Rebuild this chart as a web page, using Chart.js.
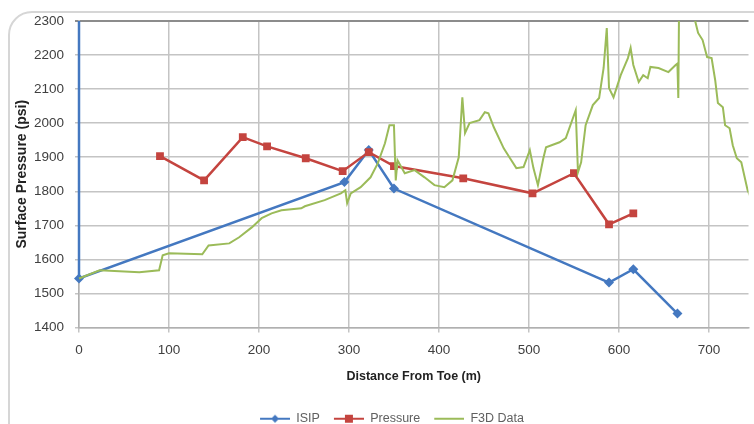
<!DOCTYPE html>
<html>
<head>
<meta charset="utf-8">
<script src="https://cdn.jsdelivr.net/npm/chart.js@4/dist/chart.umd.min.js"></script>
<style>
  html, body { margin: 0; padding: 0; background: #fff; overflow: hidden; }
  #wrap { position: relative; width: 754px; height: 424px; }
  #frame { position: absolute; left: 8px; top: 11px; width: 820px; height: 500px;
           border: 2px solid #d6d6d6; border-radius: 24px; }
  #chart { position: absolute; left: 0; top: 0; }
</style>
</head>
<body>
<div id="wrap">
  <div id="frame"></div>
  <canvas id="chart" width="754" height="424"></canvas>
</div>
<script>
// ISIP (first point runs off the top of the plot)
var isipX = [0, 0, 295, 322, 350, 589, 616, 665];
var isipY = [2500, 1544, 1827, 1921, 1808, 1532, 1571, 1441];

// Pressure
var pressureX = [90, 139, 182, 209, 252, 293, 322, 350, 427, 504, 550, 589, 616];
var pressureY = [1903, 1832, 1959, 1932, 1897, 1859, 1915, 1874, 1838, 1794, 1853, 1703, 1735];

// F3D Data
var f3dX = [0, 23, 67, 89, 93, 100, 137, 144, 167, 178, 192, 203, 214, 225, 247, 251, 273, 291, 296, 298,
            302, 313, 324, 332, 340, 345, 350, 352, 354, 362, 373, 384, 395, 406, 415, 422, 426, 429, 434, 445,
            451, 455, 461, 472, 479, 486, 494, 501, 505, 510, 516, 519, 534, 541, 552, 554.5, 558, 563, 571, 578,
            583, 586.5, 589, 594, 602, 610, 613, 616, 622, 627, 632, 635, 644, 655, 663, 665, 666, 667, 676, 685,
            688, 693, 698, 703, 707, 710, 715.5, 718, 723, 726.5, 731, 736, 740, 743, 750];
var f3dY = [1544, 1568, 1562, 1568, 1612, 1618, 1615, 1641, 1647, 1665, 1694, 1721, 1735, 1744, 1750, 1756, 1774, 1794, 1803, 1765,
            1794, 1812, 1841, 1882, 1941, 1994, 1994, 1832, 1891, 1853, 1862, 1841, 1818, 1812, 1832, 1900, 2076, 1971, 2000, 2009,
            2032, 2029, 1988, 1926, 1897, 1868, 1871, 1921, 1868, 1818, 1897, 1929, 1944, 1956, 2038, 1856, 1885, 1994, 2053, 2074,
            2162, 2279, 2103, 2076, 2141, 2191, 2221, 2171, 2121, 2141, 2132, 2165, 2162, 2150, 2171, 2175, 2074, 2400, 2500, 2297,
            2265, 2244, 2194, 2191, 2126, 2059, 2047, 1994, 1985, 1935, 1897, 1885, 1838, 1803, 1760];

var yMin = 1400, yMax = 2300, yStep = 50;
var xMin = 0, xMax = 744, xStep = 100;

var blue = '#4478c0', red = '#c4443f', green = '#9bbb59';
var font = "'Liberation Sans', Arial, sans-serif";

function pts(xs, ys) {
  return xs.map(function (x, i) { return { x: x, y: ys[i] }; });
}

// legend icon: blank gap on the left, then line with marker
function legendIcon(color, style) {
  var c = document.createElement('canvas');
  c.width = 40; c.height = 12;
  var g = c.getContext('2d');
  g.strokeStyle = color; g.lineWidth = 2;
  g.beginPath(); g.moveTo(10, 6); g.lineTo(40, 6); g.stroke();
  g.fillStyle = color;
  if (style === 'diamond') {
    g.beginPath(); g.moveTo(25, 2); g.lineTo(29, 6); g.lineTo(25, 10); g.lineTo(21, 6); g.closePath(); g.fill();
  } else if (style === 'square') {
    g.fillRect(21, 2, 8, 8);
  }
  return c;
}
var icons = [legendIcon(blue, 'diamond'), legendIcon(red, 'square'), legendIcon(green, 'none')];

// the original chart is wider than the crop, so its legend sits right of centre
var shiftLegend = {
  id: 'shiftLegend',
  afterLayout: function (chart) {
    var l = chart.legend;
    if (l) { l.left += 10; l.right += 10; l.top += 11; l.bottom += 11; }
  }
};

var ctx = document.getElementById('chart').getContext('2d');
new Chart(ctx, {
  type: 'line',
  data: {
    datasets: [
      {
        label: 'ISIP', data: pts(isipX, isipY),
        borderColor: blue, backgroundColor: blue, borderWidth: 2.5,
        pointStyle: 'rectRot', pointRadius: 5, pointBorderWidth: 0,
        order: 3, clip: { left: 10, top: 0, right: 0, bottom: 10 }
      },
      {
        label: 'Pressure', data: pts(pressureX, pressureY),
        borderColor: red, backgroundColor: red, borderWidth: 2.5,
        pointStyle: 'rect', pointRadius: 5.5, pointBorderWidth: 0,
        order: 2, clip: { left: 10, top: 0, right: 0, bottom: 10 }
      },
      {
        label: 'F3D Data', data: pts(f3dX, f3dY),
        borderColor: green, backgroundColor: green, borderWidth: 2,
        pointRadius: 0, order: 1, clip: { left: 10, top: 0, right: 0, bottom: 10 }
      }
    ]
  },
  plugins: [shiftLegend],
  options: {
    responsive: false,
    animation: false,
    layout: { padding: { top: 21, right: 0, bottom: 0, left: 0 } },
    plugins: {
      tooltip: { enabled: false },
      legend: {
        position: 'bottom',
        labels: {
          usePointStyle: true,
          pointStyleWidth: 40,
          color: '#606060',
          font: { family: font, size: 12.5 },
          padding: 4,
          sort: function (a, b) { return a.datasetIndex - b.datasetIndex; },
          generateLabels: function (chart) {
            var items = Chart.defaults.plugins.legend.labels.generateLabels(chart);
            items.forEach(function (it) { it.pointStyle = icons[it.datasetIndex]; });
            return items;
          }
        }
      }
    },
    scales: {
      x: {
        type: 'linear', min: xMin, max: xMax,
        ticks: {
          stepSize: xStep, includeBounds: false, color: '#404040', padding: 10,
          font: { family: font, size: 13.5 },
          callback: function (v) { return v % 100 === 0 ? String(v) : ''; }
        },
        grid: { color: '#c4c4c4', lineWidth: 1.5, tickLength: 5 },
        border: { color: '#b0b0b0', width: 1.5 },
        title: {
          display: true, text: 'Distance From Toe (m)', color: '#222',
          font: { family: font, size: 12.5, weight: 'bold' }, padding: { top: 6, bottom: 13 }
        },
        afterFit: function (s) { s.height = 70; }
      },
      y: {
        type: 'linear', min: yMin, max: yMax,
        ticks: {
          stepSize: yStep, color: '#404040', padding: 11,
          font: { family: font, size: 13.5 },
          callback: function (v) { return String(v); }
        },
        grid: {
          color: function (c) { return c.tick && c.tick.value === yMax ? '#8c8c8c' : '#c4c4c4'; },
          lineWidth: function (c) { return c.tick && c.tick.value === yMax ? 2 : 1.5; },
          tickLength: 4
        },
        border: { color: '#b0b0b0', width: 1.5 },
        title: {
          display: true, text: 'Surface Pressure (psi)', color: '#222',
          font: { family: font, size: 14, weight: 'bold' }, padding: { top: 14, bottom: 0 }
        },
        afterFit: function (s) { s.width = 79; }
      }
    }
  }
});
</script>
</body>
</html>
